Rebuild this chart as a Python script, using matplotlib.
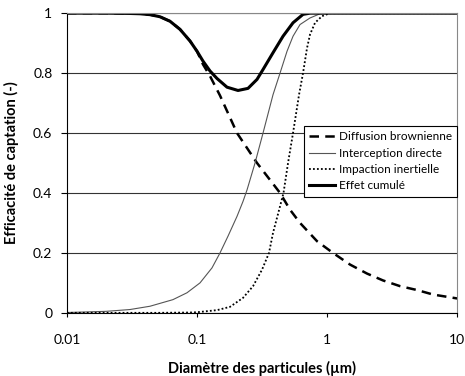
import numpy as np
from matplotlib import pyplot as plt

# diamètres (µm) et efficacités
d_diff = [0.01, 0.02, 0.0305, 0.0364, 0.0435, 0.0519, 0.062, 0.074, 0.0884, 0.1,
          0.1112, 0.1259, 0.1503, 0.2031, 0.2894, 0.435, 0.5193, 0.6197, 0.8377,
          1.11, 1.503, 2.03, 2.697, 3.643, 4.925, 6.54, 10]
e_diff = [1.0, 1.0, 0.999, 0.998, 0.995, 0.988, 0.973, 0.946, 0.907, 0.873,
          0.829, 0.79, 0.725, 0.6, 0.5, 0.4, 0.344, 0.3, 0.239,
          0.2, 0.161, 0.131, 0.108, 0.089, 0.076, 0.061, 0.048]

d_inter = [0.01, 0.02, 0.0305, 0.0435, 0.0653, 0.0838, 0.1055, 0.1304, 0.1503, 0.1732,
           0.2031, 0.2259, 0.2424, 0.2794, 0.3219, 0.3842, 0.435, 0.4924, 0.5475,
           0.6197, 0.74, 0.8835, 1.05, 10]
e_inter = [0.001, 0.005, 0.011, 0.022, 0.044, 0.067, 0.1, 0.15, 0.2, 0.256,
           0.322, 0.372, 0.41, 0.5, 0.6, 0.728, 0.8, 0.873, 0.923,
           0.962, 0.984, 0.998, 1.0, 1.0]

d_imp = [0.01, 0.05, 0.0884, 0.1, 0.1425, 0.1794, 0.2259, 0.2697, 0.3162, 0.3578,
         0.3842, 0.4198, 0.4626, 0.5012, 0.5475, 0.609, 0.6535, 0.7017, 0.74,
         0.8085, 0.9152, 1.0546, 10]
e_imp = [0.0, 0.0, 0.001, 0.002, 0.009, 0.02, 0.05, 0.089, 0.144, 0.2,
         0.267, 0.33, 0.4, 0.5, 0.6, 0.728, 0.8, 0.884, 0.929,
         0.968, 0.99, 1.0, 1.0]

d_cum = [0.01, 0.02, 0.0305, 0.0364, 0.0435, 0.0519, 0.062, 0.074, 0.0884, 0.1,
         0.1112, 0.1259, 0.1425, 0.1701, 0.2067, 0.2467, 0.2894, 0.3219, 0.3842,
         0.4586, 0.5475, 0.6535, 0.74, 10]
e_cum = [1.0, 1.0, 0.999, 0.998, 0.995, 0.988, 0.973, 0.946, 0.907, 0.873,
         0.84, 0.807, 0.782, 0.753, 0.742, 0.749, 0.779, 0.812, 0.868,
         0.923, 0.968, 0.996, 1.0, 1.0]

plt.rcParams['font.family'] = ['Lato', 'DejaVu Sans']

fig = plt.figure(figsize=(4.65, 3.76), dpi=100)
ax = fig.add_axes([0.144, 0.168, 0.839, 0.797])

ax.plot(d_diff, e_diff, color='black', lw=1.8, linestyle=(0, (3.8, 2.5)), label='Diffusion brownienne')
ax.plot(d_inter, e_inter, color='#555555', lw=0.8, label='Interception directe')
ax.plot(d_imp, e_imp, color='black', lw=1.3, linestyle=(0, (1, 1.2)), label='Impaction inertielle')
ax.plot(d_cum, e_cum, color='black', lw=2.2, label='Effet cumulé')

ax.set_xscale('log')
ax.set_xlim(0.01, 10)
ax.set_ylim(0, 1)
ax.set_xticks([0.01, 0.1, 1, 10])
ax.set_xticklabels(['0.01', '0.1', '1', '10'])
ax.set_yticks([0, 0.2, 0.4, 0.6, 0.8, 1])
ax.set_yticklabels(['0', '0.2', '0.4', '0.6', '0.8', '1'])
ax.minorticks_off()
ax.tick_params(axis='x', direction='out', length=3, width=0.8, labelsize=10, pad=12)
ax.tick_params(axis='y', direction='out', length=4.5, width=0.8, labelsize=10, pad=6)
ax.yaxis.grid(True, color='#333333', lw=0.8)
ax.set_axisbelow(True)
for s in ['top', 'right']:
    ax.spines[s].set_color('#888888')
    ax.spines[s].set_linewidth(0.8)

ax.set_xlabel('Diamètre des particules (µm)', fontsize=10.5, fontweight='bold', labelpad=11)
ax.set_ylabel('Efficacité de captation (-)', fontsize=10.5, fontweight='bold', labelpad=10)

leg = ax.legend(loc='upper right', bbox_to_anchor=(1.0, 0.623), fontsize=8.5, frameon=True,
                fancybox=False, edgecolor='black', framealpha=1, borderaxespad=0,
                handlelength=2.2, handletextpad=0.3, labelspacing=0.45, borderpad=0.45)
leg.get_frame().set_linewidth(0.8)

plt.savefig('out.png', dpi=100)
